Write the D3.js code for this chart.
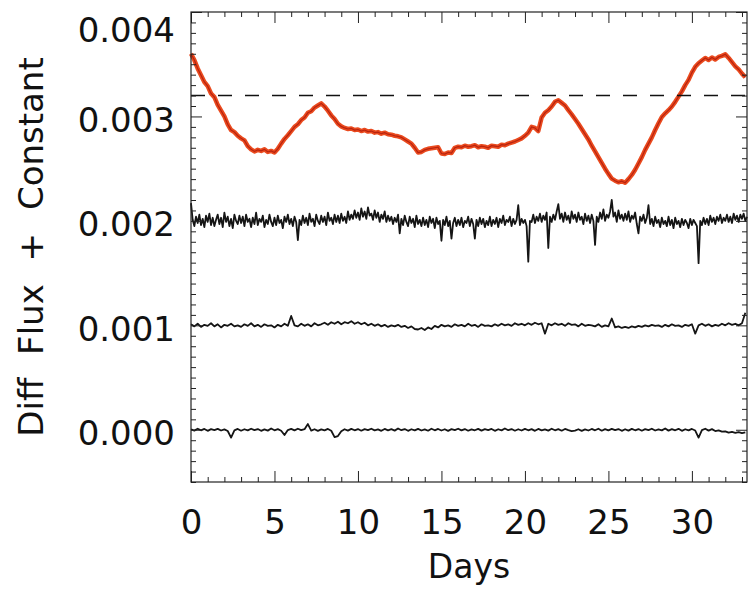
<!DOCTYPE html>
<html>
<head>
<meta charset="utf-8">
<script src="https://cdn.jsdelivr.net/npm/d3@7"></script>
<style>
  html, body { margin: 0; padding: 0; background: #fff; }
  svg { display: block; }
  .tick text { font-family: "DejaVu Sans", sans-serif; font-size: 34px; fill: #111; }
  .domain, .tick line { stroke: #222; stroke-width: 1; }
</style>
</head>
<body>
<svg id="chart" width="752" height="592"></svg>
<script>
// Light curves in units of 1e-6 (diff flux + offset)
const coarseStep = 0.2;   // days between samples for fluxTop, flux1, flux0
const fineStep = 0.1;     // days between samples for flux2

const fluxTop = [
  3600,3540,3460,3395,3330,3290,3220,3185,3110,3055,
  3000,2925,2870,2850,2815,2790,2770,2715,2685,2665,
  2680,2670,2685,2660,2670,2655,2690,2740,2785,2820,
  2860,2900,2925,2965,2990,3035,3050,3085,3105,3125,
  3095,3055,3010,2975,2930,2905,2890,2880,2885,2870,
  2875,2860,2870,2855,2860,2845,2850,2835,2845,2830,
  2825,2815,2810,2800,2780,2760,2740,2700,2655,2660,
  2680,2690,2695,2700,2705,2645,2640,2655,2650,2700,
  2710,2705,2720,2710,2715,2725,2705,2715,2710,2700,
  2720,2715,2710,2730,2725,2740,2750,2760,2775,2790,
  2815,2845,2900,2890,2860,2990,3035,3060,3095,3140,
  3155,3130,3105,3060,3020,2975,2930,2880,2830,2780,
  2720,2665,2610,2555,2500,2450,2405,2385,2370,2380,
  2365,2400,2440,2490,2550,2610,2680,2740,2800,2870,
  2935,2995,3030,3060,3095,3140,3190,3240,3300,3350,
  3420,3475,3510,3535,3560,3540,3565,3545,3570,3580,
  3595,3560,3520,3480,3450,3410,3375
];

// one row per day, ten samples each
const flux2 = [
  2170,2010,1950,2040,1980,2060,1960,2020,1940,2050,
  1990,2070,1960,2030,1950,2010,2060,1970,2030,1940,
  2080,1990,2040,1950,2020,1930,2060,2000,1970,2050,
  1980,2040,1950,2060,1990,2020,1940,2030,1970,2080,
  1960,2020,1990,2050,1940,2010,1970,2060,1990,1950,
  2030,1960,2050,1980,2010,1930,2040,1990,2060,1970,
  2020,1950,2040,1990,1815,2010,1960,2050,1980,2030,
  1960,2070,1990,2020,1950,2060,2000,1970,2050,1990,
  2040,1960,2080,2000,2030,1970,2060,1990,2050,1980,
  2070,2000,2040,1980,2090,2010,2060,2020,2100,2030,
  2080,2010,2120,2040,2090,2020,2130,2050,2070,2010,
  2100,2030,2080,1990,2060,2020,2090,1990,2050,2000,
  2040,1970,2030,1990,2060,1880,2020,1960,2050,1990,
  1950,2040,1980,2020,1940,2050,1970,2010,1950,2030,
  1960,2010,1940,2040,1980,2020,1930,2030,1970,2000,
  1810,2010,1960,2040,1950,2000,1830,1980,2030,1950,
  2010,1960,2030,1940,2000,1980,2040,1950,2020,1970,
  1830,2010,1950,2030,1970,2020,1940,2000,1960,2040,
  1950,2010,1970,2030,1940,2020,1980,2050,1960,2010,
  1990,2040,1950,2020,1970,2010,2150,1960,2020,1980,
  2010,1950,1610,2000,1990,2060,1980,2040,2000,2070,
  1990,2050,2010,2080,1740,2040,1990,2060,2010,2090,
  2160,2020,2070,1990,2080,2010,2050,1980,2090,2020,
  2060,1990,2080,2010,2040,1970,2070,2000,2050,1980,
  2060,2000,1770,2040,1990,2080,2020,2110,2000,2060,
  2030,2090,2200,2040,2080,1990,2100,2020,2060,2000,
  2070,2010,2090,1990,2050,2020,2080,1970,1880,2040,
  2000,2060,1980,2030,2150,1970,2020,1950,2040,1980,
  2010,1940,2030,1970,2000,1950,2040,1960,2010,1930,
  2030,1970,2000,1940,2020,1960,2010,1980,1930,2020,
  1960,2010,1980,1950,1595,2000,1960,2030,1970,2020,
  1960,2050,1990,2030,1970,2040,2000,2060,1980,2030,
  2000,2060,1990,2040,1980,2070,2010,2050,1990,2060,
  2020,2070,2000,2040
];

const flux1 = [
  1010,990,1015,985,1005,995,1020,990,1010,980,
  1005,995,1015,990,1000,985,1010,995,1020,990,
  1005,985,1010,995,1000,980,1005,990,1015,995,
  1090,1000,990,1015,995,1010,990,1020,1000,1010,
  1025,1005,1030,1015,1035,1010,1030,1020,1040,1015,
  1030,1010,1025,1000,1015,995,1010,990,1005,985,
  1000,990,1005,985,995,975,990,965,960,975,
  955,980,965,995,980,1005,990,1000,985,1010,
  995,1005,990,1015,995,1005,985,1010,995,1000,
  990,1010,995,1015,1000,1010,995,1020,1005,1015,
  1000,1020,1005,1025,1010,1020,920,1015,1000,1020,
  1005,1015,995,1020,1005,1010,990,1015,995,1005,
  1000,990,1010,985,1000,990,1065,980,990,975,
  985,975,990,980,995,985,1000,990,1005,995,
  1000,985,1005,990,1010,995,1000,985,1005,995,
  1010,920,1000,1015,995,1010,990,1005,995,1015,
  1000,1020,1005,1015,1000,1020,1120
];

const flux0 = [
  5,-8,10,-5,8,-10,6,-4,9,-7,
  4,-12,-75,-6,8,-9,5,-6,10,-4,
  7,-10,4,-8,12,-5,6,-9,-50,-3,
  8,-6,10,-4,6,55,-8,5,-10,4,
  -6,8,-9,-70,-60,-15,5,-8,9,-5,
  7,-9,6,-4,10,-6,4,-10,8,-5,
  6,-8,12,-4,7,-10,5,-6,9,-7,
  4,-9,10,-5,8,-7,5,-10,6,-4,
  10,-6,7,-9,4,-5,9,-8,6,-3,
  8,-10,5,-6,12,-4,7,-9,5,-7,
  9,-5,6,-10,8,-6,4,-8,10,-5,
  6,-9,8,-4,-12,-8,5,-10,4,-7,
  8,-5,10,-9,6,-6,8,-4,7,-10,
  5,-8,9,-5,7,-9,6,-4,10,-7,
  4,-6,12,-8,6,-5,9,-10,5,-6,
  8,-7,-75,-4,10,-8,6,-12,-5,-18,
  -15,-28,-20,-30,-22,-32,-25
];

const referenceLevel = 0.0032;          // dashed horizontal line
const xMajorTicks = [0, 5, 10, 15, 20, 25, 30];
const yMajorTicks = [0.000, 0.001, 0.002, 0.003, 0.004];
const xLabel = "Days";
const yLabel = "Diff Flux + Constant";

// ---- layout ----
const svg = d3.select("#chart");
const plot = { left: 191, right: 747, top: 12, bottom: 482 };

const x = d3.scaleLinear().domain([0, 33.3]).range([plot.left, plot.right]);
const y = d3.scaleLinear().domain([-0.0005, 0.004]).range([plot.bottom, plot.top]);

const xMinor = d3.range(0, 34, 1).filter(v => v <= 33.3 && v % 5 !== 0);
const yMinor = d3.range(-5, 41).map(v => v / 10000).filter(v => Math.abs(Math.round(v * 10000) % 10) !== 0);

const toSeries = (arr, step) => arr.map((v, i) => ({ t: i * step, f: v * 1e-6 }));

const line = d3.line().x(d => x(d.t)).y(d => y(d.f));

// ---- series ----
const curves = svg.append("g");
[[flux0, coarseStep, 1.8], [flux1, coarseStep, 1.8], [flux2, fineStep, 1.8]].forEach(([arr, step, w]) => {
  curves.append("path")
    .datum(toSeries(arr, step))
    .attr("fill", "none")
    .attr("stroke", "#151515")
    .attr("stroke-width", w)
    .attr("stroke-linejoin", "round")
    .attr("d", line);
});

curves.append("path")
  .datum(toSeries(fluxTop, coarseStep))
  .attr("fill", "none")
  .attr("stroke", "#ea4a1e")
  .attr("stroke-width", 4.5)
  .attr("stroke-linejoin", "round")
  .attr("d", line);
curves.append("path")
  .datum(toSeries(fluxTop, coarseStep))
  .attr("fill", "none")
  .attr("stroke", "#b8230f")
  .attr("stroke-width", 1.2)
  .attr("d", line);

// dashed reference level
svg.append("line")
  .attr("x1", x(0)).attr("x2", x(33.3))
  .attr("y1", y(referenceLevel)).attr("y2", y(referenceLevel))
  .attr("stroke", "#111")
  .attr("stroke-width", 1.6)
  .attr("stroke-dasharray", "14,13");

// ---- axes (ticks on all four sides, pointing inward) ----
function addAxis(axisFn, scale, translate, values, size, labelled) {
  const ax = axisFn(scale).tickValues(values).tickSize(-size).tickSizeOuter(0);
  if (!labelled) ax.tickFormat("");
  return svg.append("g").attr("transform", translate).call(ax);
}

// bottom
const bottomAxis = addAxis(d3.axisBottom, x, `translate(0,${plot.bottom})`, xMajorTicks, 11, true);
bottomAxis.call(g => g.select(".domain").remove());
bottomAxis.selectAll(".tick text").attr("y", 28).attr("dy", "0.71em");
addAxis(d3.axisBottom, x, `translate(0,${plot.bottom})`, xMinor, 5, false).select(".domain").remove();

// top
addAxis(d3.axisTop, x, `translate(0,${plot.top})`, xMajorTicks, 11, false).select(".domain").remove();
addAxis(d3.axisTop, x, `translate(0,${plot.top})`, xMinor, 5, false).select(".domain").remove();

// left
const leftAxis = addAxis(d3.axisLeft, y, `translate(${plot.left},0)`, yMajorTicks, 11, true);
leftAxis.select(".domain").remove();
leftAxis.selectAll(".tick text")
  .attr("x", -16)
  .attr("dy", "0.44em")
  .text(d => d3.format(".3f")(d));
leftAxis.selectAll(".tick").filter(d => d === 0.004).select("text").attr("dy", "0.88em");
addAxis(d3.axisLeft, y, `translate(${plot.left},0)`, yMinor, 5, false).select(".domain").remove();

// right
addAxis(d3.axisRight, y, `translate(${plot.right},0)`, yMajorTicks, 11, false).select(".domain").remove();
addAxis(d3.axisRight, y, `translate(${plot.right},0)`, yMinor, 5, false).select(".domain").remove();

// frame
svg.append("rect")
  .attr("x", plot.left).attr("y", plot.top)
  .attr("width", plot.right - plot.left).attr("height", plot.bottom - plot.top)
  .attr("fill", "none").attr("stroke", "#222").attr("stroke-width", 1.2);

// ---- axis titles ----
svg.append("text")
  .attr("x", (plot.left + plot.right) / 2)
  .attr("y", 578)
  .attr("text-anchor", "middle")
  .style("font-family", "'DejaVu Sans', sans-serif")
  .style("font-size", "33px")
  .attr("fill", "#111")
  .text(xLabel);

svg.append("text")
  .attr("transform", "translate(43,247) rotate(-90)")
  .attr("text-anchor", "middle")
  .style("font-family", "'DejaVu Sans', sans-serif")
  .style("font-size", "34px")
  .style("word-spacing", "12px")
  .attr("fill", "#111")
  .text(yLabel);
</script>
</body>
</html>
